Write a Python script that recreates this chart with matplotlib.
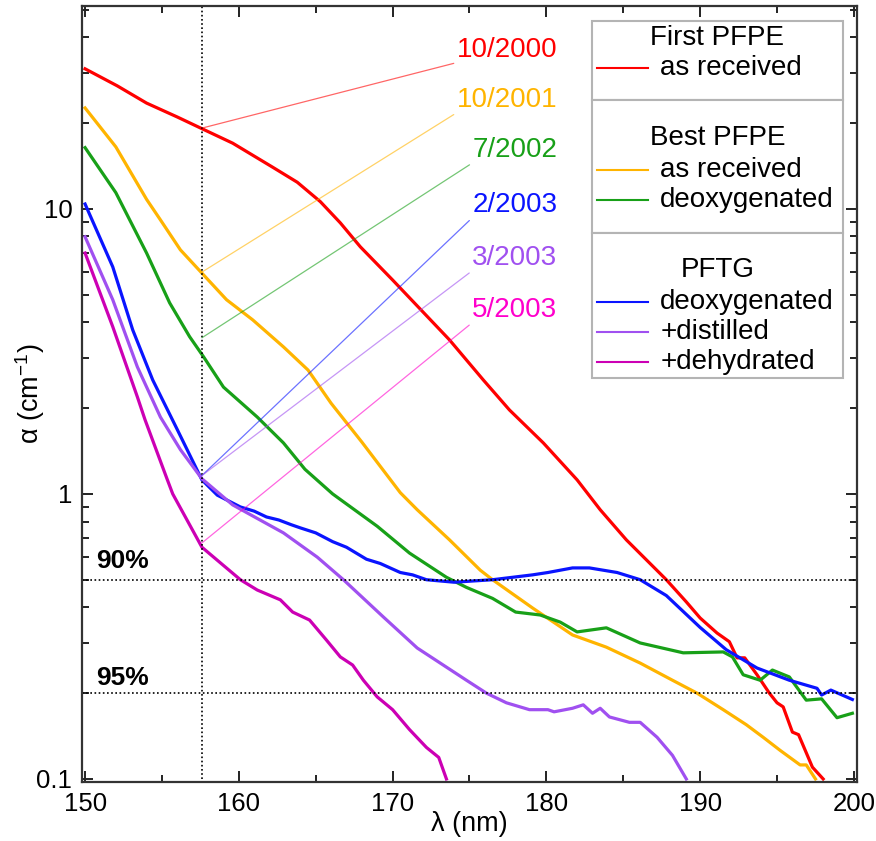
import matplotlib
matplotlib.use("Agg")
import matplotlib.pyplot as plt
from matplotlib.ticker import FixedLocator, FixedFormatter, LogLocator, NullFormatter
from matplotlib.patches import Rectangle

plt.rcParams['font.family'] = ['Liberation Sans', 'DejaVu Sans']
plt.rcParams['mathtext.fontset'] = 'custom'
plt.rcParams['mathtext.rm'] = 'Liberation Sans'

# absorption spectra, wavelength (nm) vs alpha (1/cm)
lam_first = [150.0, 152.1, 154.0, 156.0, 157.7, 159.6, 162.2, 163.8, 165.3, 166.6, 167.9,
             170.0, 173.7, 175.9, 177.6, 179.8, 182.0, 183.5, 185.2, 187.8, 189.1, 190.0,
             191.1, 191.9, 192.4, 192.9, 193.7, 194.5, 195.0, 195.4, 196.0, 196.4, 197.3, 198.0]
alpha_first = [31.0, 27.0, 23.5, 21.0, 19.0, 17.0, 14.0, 12.4, 10.6, 8.93, 7.36,
               5.63, 3.47, 2.51, 1.97, 1.51, 1.12, 0.88, 0.69, 0.50, 0.418, 0.367,
               0.325, 0.303, 0.266, 0.266, 0.232, 0.20, 0.185, 0.179, 0.146, 0.143, 0.110, 0.10]

lam_best = [150.0, 152.0, 154.0, 154.9, 156.2, 157.7, 159.2, 160.9, 162.9, 164.5, 166.0,
            168.0, 170.5, 171.6, 173.7, 175.7, 176.5, 179.1, 181.7, 183.9, 186.1, 188.2,
            189.8, 191.5, 193.0, 194.1, 195.2, 196.5, 196.9, 197.5]
alpha_best = [22.6, 16.5, 10.8, 9.15, 7.18, 5.87, 4.8, 4.08, 3.28, 2.72, 2.08,
              1.52, 1.01, 0.88, 0.69, 0.54, 0.50, 0.398, 0.32, 0.29, 0.255, 0.222,
              0.20, 0.175, 0.155, 0.14, 0.126, 0.112, 0.112, 0.10]

lam_best_deox = [150.0, 152.0, 154.0, 155.5, 156.8, 157.7, 159.0, 161.2, 162.9, 164.3, 166.1,
                 169.0, 171.1, 173.5, 174.8, 176.5, 178.0, 179.6, 180.9, 182.0, 183.9, 186.1,
                 188.9, 191.5, 192.1, 192.8, 193.9, 194.7, 195.8, 196.9, 197.9, 198.9, 199.9]
alpha_best_deox = [16.4, 11.4, 7.0, 4.68, 3.56, 3.03, 2.37, 1.86, 1.51, 1.22, 1.0,
                   0.77, 0.62, 0.51, 0.47, 0.43, 0.385, 0.376, 0.355, 0.328, 0.339, 0.30,
                   0.277, 0.279, 0.268, 0.232, 0.222, 0.241, 0.228, 0.189, 0.191, 0.164, 0.17]

lam_pftg = [150.0, 151.8, 153.1, 154.4, 156.0, 157.6, 158.6, 160.1, 161.0, 161.8, 162.6,
            163.4, 164.0, 165.0, 166.1, 167.0, 168.3, 169.2, 170.5, 171.3, 172.2, 174.0,
            176.5, 179.1, 180.1, 181.7, 182.8, 184.6, 186.1, 187.8, 190.0, 191.7, 193.7,
            195.8, 197.6, 197.9, 198.5, 199.9]
alpha_pftg = [10.4, 6.26, 3.76, 2.51, 1.68, 1.12, 0.99, 0.90, 0.87, 0.83, 0.81,
              0.78, 0.76, 0.73, 0.68, 0.65, 0.59, 0.57, 0.53, 0.52, 0.50, 0.49,
              0.50, 0.52, 0.53, 0.55, 0.55, 0.53, 0.50, 0.44, 0.34, 0.284, 0.245,
              0.222, 0.208, 0.197, 0.205, 0.19]

lam_dist = [150.0, 151.8, 153.4, 154.9, 156.2, 157.6, 159.6, 162.9, 165.1, 166.8, 169.4,
            171.6, 174.8, 176.1, 177.4, 178.9, 180.1, 180.5, 181.7, 182.4, 183.0, 183.5,
            184.1, 185.4, 186.1, 187.2, 188.2, 189.1]
alpha_dist = [7.98, 4.8, 2.79, 1.86, 1.43, 1.13, 0.915, 0.73, 0.60, 0.50, 0.37,
              0.288, 0.222, 0.20, 0.185, 0.175, 0.175, 0.172, 0.177, 0.182, 0.17, 0.177,
              0.165, 0.158, 0.158, 0.14, 0.121, 0.10]

lam_dehyd = [150.0, 151.8, 153.4, 153.9, 155.3, 155.7, 157.6, 158.8, 160.1, 161.2, 162.7,
             163.5, 164.6, 165.7, 166.6, 167.4, 168.1, 169.0, 170.0, 171.1, 172.2, 173.0, 173.5]
alpha_dehyd = [7.0, 3.86, 2.19, 1.82, 1.14, 1.0, 0.65, 0.573, 0.50, 0.46, 0.425,
               0.385, 0.361, 0.307, 0.268, 0.251, 0.222, 0.194, 0.175, 0.149, 0.129, 0.119, 0.10]

colors = ['#ff0000', '#ffb400', '#18a018', '#0a14ff', '#a050f0', '#cc00b4']
curves = [(lam_first, alpha_first), (lam_best, alpha_best), (lam_best_deox, alpha_best_deox),
          (lam_pftg, alpha_pftg), (lam_dist, alpha_dist), (lam_dehyd, alpha_dehyd)]

# date labels and where their leader lines meet the 157.6 nm marker
dates = ['10/2000', '10/2001', '7/2002', '2/2003', '3/2003', '5/2003']
date_colors = ['#ff0000', '#ffb400', '#18a018', '#0a14ff', '#a050f0', '#ff00cc']
date_alpha = [34.2, 22.8, 15.2, 9.76, 6.36, 4.18]
mark_alpha = [19.2, 6.0, 3.53, 1.16, 1.16, 0.673]
lam_mark = 157.6
level_90 = 0.5
level_95 = 0.2

legend_groups = [('First PFPE', ['as received']),
                 ('Best PFPE', ['as received', 'deoxygenated']),
                 ('PFTG', ['deoxygenated', '+distilled', '+dehydrated'])]

fig = plt.figure(figsize=(8.76, 8.41), dpi=100)
ax = fig.add_axes([0.0936, 0.0702, 0.8847, 0.9227])

for (x, y), c in zip(curves, colors):
    ax.plot(x, y, color=c, lw=2.3, solid_joinstyle='round')

ax.set_yscale('log')
ax.set_xlim(149.8, 200.2)
ax.set_ylim(0.0976, 51.5)

ax.vlines(lam_mark, 0.1, 51.5, colors='k', linestyles=(0, (1, 1.5)), lw=1.2)
ax.axhline(level_90, color='k', ls=(0, (1, 1.5)), lw=1.2)
ax.axhline(level_95, color='k', ls=(0, (1, 1.5)), lw=1.2)
ax.text(150.75, 0.55, '90%', fontsize=19, fontweight='bold')
ax.text(150.75, 0.214, '95%', fontsize=19, fontweight='bold')

for d, c, ya, ym in zip(dates, date_colors, date_alpha, mark_alpha):
    ax.annotate(d, xy=(lam_mark, ym), xytext=(180.7, ya), ha='right', va='baseline',
                color=c, fontsize=20,
                arrowprops=dict(arrowstyle='-', color=c, lw=0.9, alpha=0.6,
                                relpos=(0, 0), shrinkA=0, shrinkB=0))

# legend drawn as three stacked boxes
to_ax = lambda py: (782 - py) / 776.0
bx0, bx1 = 0.658, 0.982
bounds = [21, 100, 233, 378]
title_py = [38, 138, 270]
entry_py = [[68], [170, 200], [302, 332, 362]]
ci = 0
for g, (title, labels) in enumerate(legend_groups):
    top, bot = to_ax(bounds[g]), to_ax(bounds[g + 1])
    ax.add_patch(Rectangle((bx0, bot), bx1 - bx0, top - bot, transform=ax.transAxes,
                           facecolor='white', edgecolor='#b4b4b4', lw=1.5, zorder=5))
    ax.text((bx0 + bx1) / 2, to_ax(title_py[g]), title, transform=ax.transAxes,
            ha='center', va='center', fontsize=20, zorder=6)
    for lab, py in zip(labels, entry_py[g]):
        yy = to_ax(py)
        ax.plot([0.665, 0.730], [yy, yy], transform=ax.transAxes, color=colors[ci],
                lw=1.5, zorder=6)
        ax.text(0.746, yy, lab, transform=ax.transAxes, ha='left', va='center',
                fontsize=20, zorder=6)
        ci += 1

ax.xaxis.set_major_locator(FixedLocator([150, 160, 170, 180, 190, 200]))
ax.xaxis.set_minor_locator(FixedLocator([155, 165, 175, 185, 195]))
ax.yaxis.set_major_locator(FixedLocator([0.1, 1, 10]))
ax.yaxis.set_major_formatter(FixedFormatter(['0.1', '1', '10']))
ax.yaxis.set_minor_locator(LogLocator(base=10, subs=range(2, 10)))
ax.yaxis.set_minor_formatter(NullFormatter())

ax.tick_params(which='both', direction='in', top=True, right=True, labelsize=18.5,
               width=1.4, color='#222222')
ax.tick_params(which='major', length=8, pad=7)
ax.tick_params(which='minor', length=5)
for s in ax.spines.values():
    s.set_linewidth(1.6)
    s.set_color('#333333')

ax.set_xlabel('λ (nm)', fontsize=19.5)
ax.set_ylabel(r'α (cm$\mathregular{^{-1}}$)', fontsize=19.5)
ax.xaxis.set_label_coords(0.5, -0.038)
ax.yaxis.set_label_coords(-0.045, 0.5)

fig.savefig('out.png', dpi=100)
